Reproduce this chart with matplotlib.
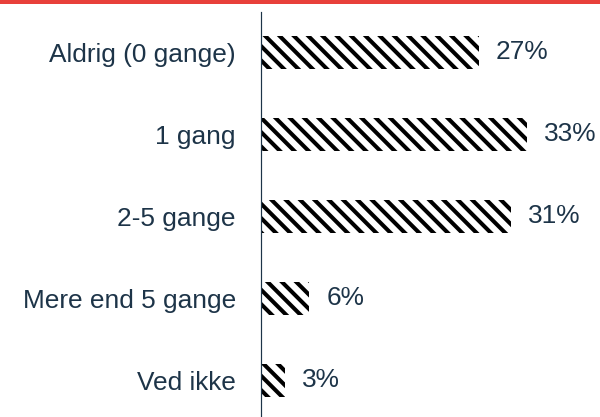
import matplotlib.pyplot as plt
from matplotlib.patches import Rectangle

# survey answers
categories = ['Aldrig (0 gange)', '1 gang', '2-5 gange', 'Mere end 5 gange', 'Ved ikke']
values = [27, 33, 31, 6, 3]
value_labels = ['27%', '33%', '31%', '6%', '3%']

text_color = '#1d3448'

plt.rcParams['font.family'] = ['Liberation Sans', 'DejaVu Sans']
plt.rcParams['hatch.linewidth'] = 3.4

dpi = 86
fig = plt.figure(figsize=(600 / dpi, 417 / dpi), dpi=dpi)

# red strip along the top
fig.patches.append(Rectangle((0, 1 - 4 / 417), 1, 4 / 417, transform=fig.transFigure,
                             facecolor='#e8403a', edgecolor='none'))

ax = fig.add_axes([261 / 600, 0, 339 / 600, 405 / 417])

y = range(len(categories))
ax.barh(y, values, height=0.4, color='white', edgecolor='black', linewidth=0,
        hatch='\\\\')

for i, v in enumerate(values):
    ax.text(v + 2.1, i, value_labels[i], va='center', ha='left', fontsize=22,
            color=text_color)

ax.set_xlim(0, 42)
ax.set_ylim(4.45, -0.49)
ax.set_yticks(list(y))
ax.set_yticklabels(categories, fontsize=22, color=text_color)
ax.tick_params(axis='y', length=0, pad=21)
ax.set_xticks([])

for s in ['top', 'right', 'bottom']:
    ax.spines[s].set_visible(False)
ax.spines['left'].set_color(text_color)
ax.spines['left'].set_linewidth(1.0)

fig.savefig('out.png', dpi=dpi)
